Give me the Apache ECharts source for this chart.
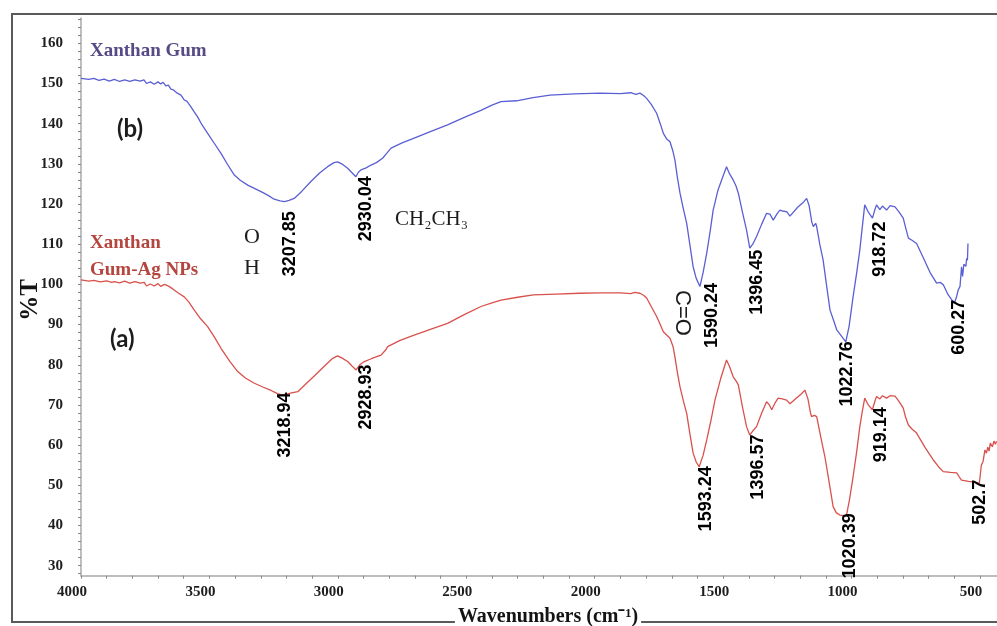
<!DOCTYPE html>
<html>
<head>
<meta charset="utf-8">
<script src="https://cdn.jsdelivr.net/npm/echarts@6/dist/echarts.min.js"></script>
<style>
  html, body { margin: 0; padding: 0; background: #fff; }
  #chart { width: 997px; height: 626px; }
</style>
</head>
<body>
<div id="chart"></div>
<script>
// FTIR spectrum (b): Xanthan Gum — wavenumber (cm-1) and transmittance (%T)
const xgWave = [4000,3970,3950,3930,3910,3890,3870,3850,3830,3810,
  3790,3770,3755,3745,3730,3715,3700,3690,3680,3670,
  3660,3650,3640,3625,3611,3598,3588,3572,3560,3546,
  3530,3507,3480,3455,3430,3403,3380,3351,3325,3299,
  3270,3248,3225,3207.85,3190,3170,3140,3105,3070,3040,
  3015,3001,2985,2962,2945,2930.04,2920,2910,2890,2871,
  2850,2826,2810,2793,2750,2703,2640,2573,2510,2443,
  2400,2365,2304,2240,2174,2080,1980,1900,1860,1840,
  1824,1810,1798,1780,1759,1745,1733,1720,1707,1695,
  1688,1678,1668,1655,1642,1630,1617,1605,1590.24,1578,
  1564,1550,1539,1520,1506,1487,1475,1461,1450,1441,
  1425,1409,1396.45,1385,1370,1350,1331,1318,1305,1290,
  1279,1265,1253,1240,1234,1210,1190,1175,1165,1155,
  1149,1140,1136,1124,1111,1097,1084,1070,1058,1040,
  1022.76,1010,994,980,968,958,949,935,918.72,910,
  903,890,880,864,850,831,815,799,790,779,
  765,747,720,695,669,655,643,625,600.27,592,
  585,578,572,568,563,559,555,552,549,547];
const xgT = [151.3,151.0,151.3,150.8,151.1,150.6,151.0,150.5,150.9,150.5,
  150.9,150.6,150.9,150.0,150.4,149.8,150.4,149.9,150.3,149.4,
  149.6,148.6,148.4,147.6,147.1,145.9,145.6,144.2,143.0,141.7,
  139.8,137.6,135.0,132.6,129.9,127.2,125.9,124.7,123.9,123.1,
  122.1,121.2,120.8,120.6,120.9,121.4,123.2,125.6,127.8,129.3,
  130.3,130.5,130.0,128.9,127.8,126.8,127.9,128.5,129.0,129.7,
  130.3,131.4,132.6,133.9,135.2,136.4,138.0,139.7,141.5,143.3,
  144.6,145.5,145.7,146.5,147.1,147.4,147.6,147.5,147.7,147.3,
  147.6,147.0,146.3,144.8,142.6,140.0,137.6,136.2,135.5,133.0,
  131.0,126.5,122.7,118.8,115.2,110.0,104.4,101.5,99.5,103.0,
  107.8,113.5,118.5,123.5,126.0,129.3,127.5,126.0,124.5,122.7,
  118.0,113.5,109.0,110.0,111.9,115.0,117.7,117.5,116.0,117.6,
  118.5,118.2,118.1,117.0,117.3,119.2,120.3,121.4,119.5,115.5,
  114.4,115.2,114.4,110.0,106.1,99.5,93.6,91.0,88.7,87.2,
  85.7,89.5,97.0,103.0,108.6,114.5,119.8,118.0,116.5,118.5,
  119.8,118.6,119.5,118.5,119.6,119.3,118.0,116.5,114.2,111.5,
  111.0,110.2,106.5,103.0,100.3,100.5,99.9,97.5,95.3,96.8,
  98.6,99.5,104.4,102.0,105.0,105.3,104.5,106.5,106.0,110.2];

// FTIR spectrum (a): Xanthan Gum-Ag NPs
const agWave = [4000,3970,3950,3925,3900,3880,3870,3850,3830,3810,
  3790,3770,3754,3745,3730,3715,3700,3690,3675,3663,
  3650,3637,3620,3598,3580,3559,3535,3507,3480,3455,
  3420,3390,3360,3325,3290,3260,3235,3218.94,3200,3180,
  3156,3125,3092,3050,3020,3001,2985,2962,2945,2928.93,
  2915,2897,2870,2832,2815,2806,2760,2703,2640,2573,
  2510,2443,2400,2365,2300,2239,2150,2060,1980,1900,
  1860,1845,1824,1810,1798,1780,1759,1745,1733,1720,
  1707,1695,1688,1678,1668,1655,1642,1630,1617,1605,
  1593.24,1578,1564,1548,1532,1510,1487,1475,1461,1450,
  1441,1425,1409,1396.57,1385,1370,1350,1331,1320,1311,
  1298,1286,1270,1253,1240,1234,1210,1195,1182,1170,
  1160,1156,1145,1136,1120,1104,1088,1072,1060,1046,
  1020.39,1008,994,980,968,958,949,935,919.14,910,
  903,890,880,864,850,831,815,799,790,779,
  765,747,715,682,660,643,615,591,580,572,
  545,520,502.7,495,488,481,475,470,465,460,
  452,446,440,436];
const agT = [101.1,100.8,101.0,100.6,100.9,100.5,100.7,100.4,100.8,100.3,
  100.7,100.3,100.5,99.6,100.1,99.6,100.2,99.5,100.0,99.7,
  99.2,98.6,97.8,96.9,95.6,93.6,91.5,89.5,86.8,84.1,
  80.8,78.3,76.7,75.4,74.4,73.6,72.8,72.5,72.7,73.0,
  73.3,75.2,77.2,79.8,81.6,82.2,81.7,80.8,79.7,78.7,
  80.0,80.8,81.5,82.4,83.6,84.5,86.0,87.4,88.8,90.3,
  92.4,94.5,95.4,96.1,96.8,97.4,97.6,97.8,97.9,97.9,
  97.7,98.0,97.8,97.3,96.6,94.5,92.0,90.0,88.2,87.4,
  86.6,84.5,82.0,78.0,74.5,71.0,67.9,63.0,58.0,55.8,
  54.6,57.5,61.3,66.0,71.2,76.5,81.2,79.5,77.0,76.0,
  75.0,69.5,64.6,62.5,63.5,64.6,68.0,70.8,70.0,68.8,
  70.5,71.7,71.5,71.2,70.3,70.0,72.0,72.8,73.7,71.5,
  68.0,67.1,67.4,67.1,62.0,57.1,51.0,44.7,43.2,42.6,
  42.4,46.5,52.2,58.5,64.6,68.5,71.7,70.0,68.8,70.8,
  72.1,71.5,72.3,71.7,72.3,72.2,70.8,69.2,67.0,65.0,
  64.0,63.0,59.5,56.3,54.5,53.4,53.2,53.1,52.0,51.3,
  51.0,50.8,50.5,55.0,56.0,58.8,58.0,59.5,58.5,60.5,
  59.6,61.0,60.2,61.0];

// Labelled absorption bands (cm-1)
const xgPeaks = [3207.85, 2930.04, 1590.24, 1396.45, 1022.76, 918.72, 600.27];
const agPeaks = [3218.94, 2928.93, 1593.24, 1396.57, 1020.39, 919.14, 502.7];

// Axis ticks
const xTickLabels = [4000, 3500, 3000, 2500, 2000, 1500, 1000, 500];
const yTickLabels = [30, 40, 50, 60, 70, 80, 90, 100, 110, 120, 130, 140, 150, 160];

// ---- presentation ----
const xMinorTicks = [];
for (let w = 500; w <= 4000; w += 100) xMinorTicks.push(w);
const yMinorTicks = [];
for (let v = 28; v <= 166; v += 2) yMinorTicks.push(v);

const zip = (a, b) => a.map((w, i) => [w, b[i]]);
const xgData = zip(xgWave, xgT);
const agData = zip(agWave, agT);
const peakPoint = (waves, ts, p) => [p, ts[waves.indexOf(p)]];

// label nudges [dx, dy] in px, relative to the band minimum
const xgNudge = [[6, 10], [11, 0], [13, -3], [8, 2], [2, 0], [8, 4], [5, -3]];
const agNudge = [[4, -2], [10, -5], [7, 0], [9, 0], [4, -2], [9, -2], [1, -3]];

const bandLabel = {
  show: true,
  rotate: 90,
  align: 'right',
  verticalAlign: 'middle',
  fontFamily: 'Liberation Sans',
  fontWeight: 'bold',
  fontSize: 18,
  color: '#000',
  opacity: 1,
  textBorderWidth: 0,
  textBorderColor: 'transparent',
  textShadowBlur: 0,
  formatter: p => String(p.value[0])
};

function peakSeries(waves, ts, peaks, nudges) {
  return {
    type: 'scatter',
    symbolSize: 1,
    itemStyle: { opacity: 0 },
    silent: true,
    z: 5,
    data: peaks.map((p, i) => ({
      value: peakPoint(waves, ts, p),
      label: Object.assign({}, bandLabel, { position: nudges[i] })
    }))
  };
}

const serif = 'Liberation Serif, Times New Roman, serif';

const chart = echarts.init(document.getElementById('chart'), null, { renderer: 'canvas' });
chart.setOption({
  animation: false,
  backgroundColor: '#fff',
  grid: { left: 81, right: 0, top: 18, bottom: 50.3, containLabel: false },
  xAxis: {
    type: 'value',
    inverse: true,
    min: 434,
    max: 4000,
    splitLine: { show: false },
    axisLine: { show: true, onZero: false, lineStyle: { color: '#a8a8a8', width: 1.5 } },
    axisTick: { show: true, customValues: xMinorTicks, length: 3, inside: false, lineStyle: { color: '#888' } },
    axisLabel: {
      customValues: xTickLabels,
      formatter: v => String(v),
      margin: 9,
      padding: [0, 18, 0, 0],
      fontFamily: serif,
      fontWeight: 'bold',
      fontSize: 15,
      color: '#1e1e1e'
    }
  },
  yAxis: {
    type: 'value',
    min: 27.5,
    max: 166.3,
    splitLine: { show: false },
    axisLine: { show: true, onZero: false, lineStyle: { color: '#a8a8a8', width: 1.5 } },
    axisTick: { show: true, customValues: yMinorTicks, length: 3, lineStyle: { color: '#888' } },
    axisLabel: {
      customValues: yTickLabels,
      formatter: v => String(v),
      margin: 18,
      padding: [5, 0, 0, 0],
      fontFamily: serif,
      fontWeight: 'bold',
      fontSize: 15,
      color: '#1e1e1e'
    }
  },
  series: [
    {
      name: 'Xanthan Gum',
      type: 'line',
      data: xgData,
      showSymbol: false,
      smooth: false,
      lineStyle: { color: '#5a5fd3', width: 1.3 },
      z: 3
    },
    {
      name: 'Xanthan Gum-Ag NPs',
      type: 'line',
      data: agData,
      showSymbol: false,
      smooth: false,
      lineStyle: { color: '#d9514c', width: 1.3 },
      z: 3
    },
    peakSeries(xgWave, xgT, xgPeaks, xgNudge),
    peakSeries(agWave, agT, agPeaks, agNudge)
  ],
  graphic: [
    // outer frame
    {
      type: 'rect', z: 0, silent: true,
      shape: { x: 12, y: 14, width: 1000, height: 608 },
      style: { fill: 'none', stroke: '#5a5a5a', lineWidth: 2 }
    },
    // axis titles
    {
      type: 'text', z: 10, x: 548, y: 627,
      style: {
        text: 'Wavenumbers (cm\u207B\u00B9)',
        font: 'bold 20px ' + serif,
        fill: '#141414',
        align: 'center',
        verticalAlign: 'bottom',
        backgroundColor: '#fff',
        padding: [0, 3, 0, 3]
      }
    },
    {
      type: 'text', z: 10, x: 31, y: 300, rotation: Math.PI / 2,
      style: { text: '%T', font: 'bold 25px ' + serif, fill: '#141414', align: 'center', verticalAlign: 'middle' }
    },
    // series names
    {
      type: 'text', z: 10, x: 90, y: 51,
      style: { text: 'Xanthan Gum', font: 'bold 19px ' + serif, fill: '#574b86', verticalAlign: 'middle' }
    },
    {
      type: 'text', z: 10, x: 90, y: 243,
      style: { text: 'Xanthan', font: 'bold 19px ' + serif, fill: '#b5463f', verticalAlign: 'middle' }
    },
    {
      type: 'text', z: 10, x: 90, y: 270,
      style: { text: 'Gum-Ag NPs', font: 'bold 19px ' + serif, fill: '#b5463f', verticalAlign: 'middle' }
    },
    {
      type: 'text', z: 10, x: 117, y: 129,
      style: { text: '(b)', font: 'bold 24px Lato, Open Sans, sans-serif', fill: '#1c1c1c', verticalAlign: 'middle' }
    },
    {
      type: 'text', z: 10, x: 110, y: 339,
      style: { text: '(a)', font: 'bold 24px Lato, Open Sans, sans-serif', fill: '#1c1c1c', verticalAlign: 'middle' }
    },
    // functional-group notes
    {
      type: 'text', z: 10, x: 252, y: 237,
      style: { text: 'O', font: '22px ' + serif, fill: '#1c1c1c', align: 'center', verticalAlign: 'middle' }
    },
    {
      type: 'text', z: 10, x: 252, y: 268,
      style: { text: 'H', font: '22px ' + serif, fill: '#1c1c1c', align: 'center', verticalAlign: 'middle' }
    },
    {
      type: 'text', z: 10, x: 395, y: 219,
      style: { text: 'CH\u2082CH\u2083', font: '21px ' + serif, fill: '#1c1c1c', verticalAlign: 'middle' }
    },
    {
      type: 'text', z: 10, x: 682, y: 313, rotation: -Math.PI / 2,
      style: { text: 'C=O', font: '22px Liberation Sans, Arial, sans-serif', fill: '#1c1c1c', align: 'center', verticalAlign: 'middle' }
    }
  ]
});
</script>
</body>
</html>
